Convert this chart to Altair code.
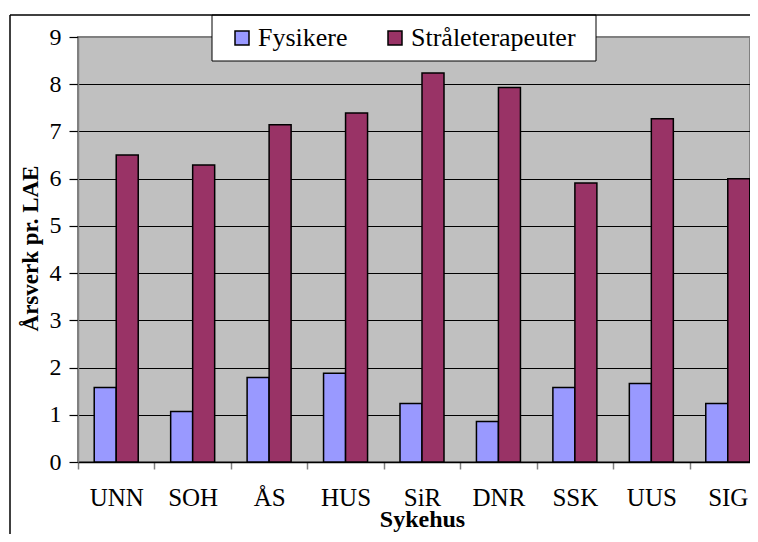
import altair as alt
import pandas as pd

hospitals = ["UNN", "SOH", "ÅS", "HUS", "SiR", "DNR", "SSK", "UUS", "SIG"]
fysikere = [1.58, 1.07, 1.79, 1.88, 1.24, 0.86, 1.58, 1.66, 1.24]
straale = [6.50, 6.29, 7.14, 7.39, 8.24, 7.93, 5.91, 7.27, 6.00]
series = ["Fysikere", "Stråleterapeuter"]
colors = ["#9999FF", "#993366"]
y_ticks = [0, 1, 2, 3, 4, 5, 6, 7, 8, 9]

rows = []
for h, f, s in zip(hospitals, fysikere, straale):
    rows.append({"Sykehus": h, "Gruppe": series[0], "Verdi": f})
    rows.append({"Sykehus": h, "Gruppe": series[1], "Verdi": s})
df = pd.DataFrame(rows)

FONT = "Liberation Serif"

bars = alt.Chart(df).mark_bar(stroke="black", strokeWidth=1.5).encode(
    x=alt.X(
        "Sykehus:N",
        sort=hospitals,
        scale=alt.Scale(paddingInner=0, paddingOuter=0, range=[0, 688]),
        axis=alt.Axis(
            title="Sykehus",
            labelAngle=0,
            tickBand="extent",
            tickSize=7,
            tickColor="#808080",
            tickWidth=1.5,
            domainColor="black",
            domainWidth=1.5,
            labelFont=FONT,
            labelFontSize=25,
            labelColor="black",
            labelPadding=16,
            labelBaseline="top",
            titleFont=FONT,
            titleFontSize=24,
            titleFontWeight="bold",
            titleColor="black",
            titleBaseline="alphabetic",
            titleY=64,
            titleX=344,
            grid=False,
        ),
    ),
    xOffset=alt.XOffset(
        "Gruppe:N", sort=series,
        scale=alt.Scale(paddingInner=0, paddingOuter=0.737),
    ),
    y=alt.Y(
        "Verdi:Q",
        scale=alt.Scale(domain=[0, 9], nice=False),
        axis=alt.Axis(
            title="Årsverk pr. LAE",
            values=y_ticks,
            grid=True,
            gridColor={"condition": {"test": "datum.value === 9", "value": "#808080"}, "value": "black"},
            gridWidth=1,
            tickSize=9,
            tickColor="black",
            tickWidth=1.2,
            domainColor="#808080",
            domainWidth=1.5,
            labelFont=FONT,
            labelFontSize=24,
            labelColor="black",
            labelPadding=8,
            titleFont=FONT,
            titleFontSize=23,
            titleFontWeight="bold",
            titleColor="black",
            titleBaseline="alphabetic",
            titleAngle=-90,
            titleX=-41,
            titleY=211,
        ),
    ),
    color=alt.Color(
        "Gruppe:N",
        sort=series,
        scale=alt.Scale(domain=series, range=colors),
        legend=alt.Legend(
            title=None,
            orient="none",
            legendX=151,
            legendY=-12,
            direction="horizontal",
            symbolType="square",
            symbolSize=196,
            symbolStrokeColor="black",
            symbolStrokeWidth=1.5,
            symbolOpacity=1,
            labelFont=FONT,
            labelFontSize=26,
            labelColor="black",
            labelOffset=3,
            labelLimit=0,
            columnPadding=34,
            padding=0,
        ),
    ),
)

one = pd.DataFrame({"a": [0]})

legend_box = alt.Chart(one).mark_rect(fill="white", stroke="black", strokeWidth=1).encode(
    x=alt.value(134), x2=alt.value(518), y=alt.value(-22), y2=alt.value(24)
)

top_border = alt.Chart(one).mark_rule(color="black", strokeWidth=1.5).encode(
    x=alt.value(-68), x2=alt.value(760), y=alt.value(-22)
)
left_border = alt.Chart(one).mark_rule(color="black", strokeWidth=1.5).encode(
    x=alt.value(-68), y=alt.value(-22), y2=alt.value(600)
)

chart = alt.layer(bars, legend_box, top_border, left_border).properties(
    width=672,
    height=425,
    autosize=alt.AutoSizeParams(type="none"),
    padding={"left": 70, "top": 29, "right": 0, "bottom": 72},
    background="white",
).configure(
    font=FONT,
).configure_axis(
    labelFont=FONT,
    titleFont=FONT,
).configure_legend(
    labelFont=FONT,
    titleFont=FONT,
).configure_view(
    fill="#C0C0C0",
    stroke="#808080",
    strokeWidth=2,
)

chart.save("out.html", embed_options={"renderer": "svg", "actions": False})
